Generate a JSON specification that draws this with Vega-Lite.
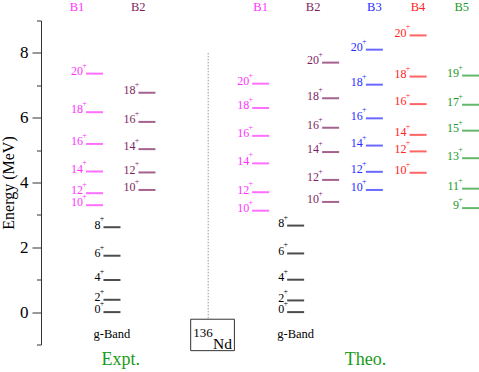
{
  "$schema": "https://vega.github.io/schema/vega-lite/v6.json",
  "width": 438,
  "height": 324,
  "autosize": {"type": "none"},
  "padding": {"left": 41, "top": 20.5, "right": 0, "bottom": 27.5},
  "background": "white",
  "config": {"view": {"stroke": null}, "font": "Liberation Serif"},
  "resolve": {"axis": {"y": "independent"}},
  "datasets": {
    "levels": [
      {"column": "Expt. B1", "band": "B1", "spin": "20", "parity": "+", "energy": 7.36},
      {"column": "Expt. B1", "band": "B1", "spin": "18", "parity": "+", "energy": 6.17},
      {"column": "Expt. B1", "band": "B1", "spin": "16", "parity": "+", "energy": 5.19},
      {"column": "Expt. B1", "band": "B1", "spin": "14", "parity": "+", "energy": 4.34},
      {"column": "Expt. B1", "band": "B1", "spin": "12", "parity": "+", "energy": 3.67},
      {"column": "Expt. B1", "band": "B1", "spin": "10", "parity": "+", "energy": 3.30},
      {"column": "Expt. B2", "band": "B2", "spin": "18", "parity": "+", "energy": 6.77},
      {"column": "Expt. B2", "band": "B2", "spin": "16", "parity": "+", "energy": 5.87},
      {"column": "Expt. B2", "band": "B2", "spin": "14", "parity": "+", "energy": 5.03},
      {"column": "Expt. B2", "band": "B2", "spin": "12", "parity": "+", "energy": 4.31},
      {"column": "Expt. B2", "band": "B2", "spin": "10", "parity": "+", "energy": 3.77},
      {"column": "Expt. g-Band", "band": "g-Band", "spin": "8", "parity": "+", "energy": 2.62},
      {"column": "Expt. g-Band", "band": "g-Band", "spin": "6", "parity": "+", "energy": 1.74},
      {"column": "Expt. g-Band", "band": "g-Band", "spin": "4", "parity": "+", "energy": 0.99},
      {"column": "Expt. g-Band", "band": "g-Band", "spin": "2", "parity": "+", "energy": 0.38},
      {"column": "Expt. g-Band", "band": "g-Band", "spin": "0", "parity": "+", "energy": 0.0},
      {"column": "Theo. B1", "band": "B1", "spin": "20", "parity": "+", "energy": 7.05},
      {"column": "Theo. B1", "band": "B1", "spin": "18", "parity": "+", "energy": 6.30},
      {"column": "Theo. B1", "band": "B1", "spin": "16", "parity": "+", "energy": 5.44},
      {"column": "Theo. B1", "band": "B1", "spin": "14", "parity": "+", "energy": 4.59},
      {"column": "Theo. B1", "band": "B1", "spin": "12", "parity": "+", "energy": 3.70},
      {"column": "Theo. B1", "band": "B1", "spin": "10", "parity": "+", "energy": 3.13},
      {"column": "Theo. B2", "band": "B2", "spin": "20", "parity": "+", "energy": 7.70},
      {"column": "Theo. B2", "band": "B2", "spin": "18", "parity": "+", "energy": 6.60},
      {"column": "Theo. B2", "band": "B2", "spin": "16", "parity": "+", "energy": 5.69},
      {"column": "Theo. B2", "band": "B2", "spin": "14", "parity": "+", "energy": 4.94},
      {"column": "Theo. B2", "band": "B2", "spin": "12", "parity": "+", "energy": 4.08},
      {"column": "Theo. B2", "band": "B2", "spin": "10", "parity": "+", "energy": 3.40},
      {"column": "Theo. B3", "band": "B3", "spin": "20", "parity": "+", "energy": 8.10},
      {"column": "Theo. B3", "band": "B3", "spin": "18", "parity": "+", "energy": 7.02},
      {"column": "Theo. B3", "band": "B3", "spin": "16", "parity": "+", "energy": 5.98},
      {"column": "Theo. B3", "band": "B3", "spin": "14", "parity": "+", "energy": 5.14},
      {"column": "Theo. B3", "band": "B3", "spin": "12", "parity": "+", "energy": 4.33},
      {"column": "Theo. B3", "band": "B3", "spin": "10", "parity": "+", "energy": 3.77},
      {"column": "Theo. B4", "band": "B4", "spin": "20", "parity": "+", "energy": 8.54},
      {"column": "Theo. B4", "band": "B4", "spin": "18", "parity": "+", "energy": 7.27},
      {"column": "Theo. B4", "band": "B4", "spin": "16", "parity": "+", "energy": 6.42},
      {"column": "Theo. B4", "band": "B4", "spin": "14", "parity": "+", "energy": 5.47},
      {"column": "Theo. B4", "band": "B4", "spin": "12", "parity": "+", "energy": 4.96},
      {"column": "Theo. B4", "band": "B4", "spin": "10", "parity": "+", "energy": 4.30},
      {"column": "Theo. B5", "band": "B5", "spin": "19", "parity": "+", "energy": 7.30},
      {"column": "Theo. B5", "band": "B5", "spin": "17", "parity": "+", "energy": 6.40},
      {"column": "Theo. B5", "band": "B5", "spin": "15", "parity": "+", "energy": 5.60},
      {"column": "Theo. B5", "band": "B5", "spin": "13", "parity": "+", "energy": 4.75},
      {"column": "Theo. B5", "band": "B5", "spin": "11", "parity": "+", "energy": 3.81},
      {"column": "Theo. B5", "band": "B5", "spin": "9", "parity": "+", "energy": 3.21},
      {"column": "Theo. g-Band", "band": "g-Band", "spin": "8", "parity": "+", "energy": 2.67},
      {"column": "Theo. g-Band", "band": "g-Band", "spin": "6", "parity": "+", "energy": 1.81},
      {"column": "Theo. g-Band", "band": "g-Band", "spin": "4", "parity": "+", "energy": 1.00},
      {"column": "Theo. g-Band", "band": "g-Band", "spin": "2", "parity": "+", "energy": 0.36},
      {"column": "Theo. g-Band", "band": "g-Band", "spin": "0", "parity": "+", "energy": 0.0}
    ],
    "headers": [
      {"column": "Expt. B1 label", "band": "B1"},
      {"column": "Expt. B2 label", "band": "B2"},
      {"column": "Theo. B1", "band": "B1"},
      {"column": "Theo. B2 label", "band": "B2"},
      {"column": "Theo. B3", "band": "B3"},
      {"column": "Theo. B4", "band": "B4"},
      {"column": "Theo. B5 label", "band": "B5"}
    ]
  },
  "encoding": {
    "x": {
      "field": "column",
      "type": "nominal",
      "axis": null,
      "scale": {
        "type": "point",
        "padding": 0,
        "range": [1, 438.3],
        "domain": ["gap a", "gap b", "gap c", "gap d", "Expt. B1 label", "gap e", "Expt. B1", "gap f", "Expt. g-Band", "Expt. caption", "gap g", "Expt. B2 label", "Expt. B2", "gap h", "gap i", "gap j", "gap k", "Nd box left", "gap l", "Nd", "gap m", "gap n", "Nd box right", "gap o", "gap p", "Theo. B1", "gap q", "gap r", "gap s", "Theo. g-Band", "gap t", "Theo. B2 label", "gap u", "Theo. B2", "gap v", "gap w", "gap x", "Theo. caption", "Theo. B3", "gap y", "gap z", "gap A", "gap B", "Theo. B4", "gap C", "gap D", "gap E", "gap F", "Theo. B5 label", "Theo. B5", "gap G"]
      }
    }
  },
  "layer": [
    {
      "data": {"values": [{"column": "Nd"}]},
      "mark": {"type": "rule", "color": "#999999", "strokeWidth": 1, "strokeDash": [1.5, 1.5]},
      "encoding": {
        "y": {"datum": 8, "type": "quantitative", "scale": {"domain": [-1, 9], "nice": false, "zero": false},
          "axis": {"values": [-1, 1, 3, 5, 7, 9], "orient": "left", "labels": false, "title": null, "domain": false, "grid": false, "tickSize": 4.5, "tickColor": "#333333"}},
        "y2": {"datum": -0.22}
      }
    },
    {
      "data": {"values": [{"column": "Nd box left", "column_end": "Nd box right"}]},
      "mark": {"type": "rect", "fill": "white", "stroke": "#333333", "strokeWidth": 1},
      "encoding": {
        "x2": {"field": "column_end"},
        "y": {"datum": -0.22, "type": "quantitative", "axis": null},
        "y2": {"datum": -1.19}
      }
    },
    {
      "data": {"values": [{"column": "Nd box left", "text": "136"}]},
      "mark": {"type": "text", "font": "Liberation Serif", "align": "left", "baseline": "alphabetic", "dx": 2.5, "fontSize": 13, "color": "#000000"},
      "encoding": {
        "y": {"datum": -0.76, "type": "quantitative", "axis": null},
        "text": {"field": "text"}
      }
    },
    {
      "data": {"values": [{"column": "Nd box right", "text": "Nd"}]},
      "mark": {"type": "text", "font": "Liberation Serif", "align": "right", "baseline": "alphabetic", "dx": -2.4, "fontSize": 15.5, "color": "#000000"},
      "encoding": {
        "y": {"datum": -1.13, "type": "quantitative", "axis": null},
        "text": {"field": "text"}
      }
    },
    {
      "data": {"name": "levels"},
      "mark": {"type": "tick", "size": 17, "thickness": 2},
      "encoding": {
        "y": {
          "field": "energy",
          "type": "quantitative",
          "scale": {"domain": [-1, 9], "nice": false, "zero": false},
          "axis": {
            "values": [0, 2, 4, 6, 8],
            "orient": "left",
            "title": "Energy (MeV)",
            "titleFont": "Liberation Serif",
            "titleFontSize": 16,
            "titleFontWeight": "normal",
            "titleColor": "#000000",
            "titlePadding": 3,
            "labelFont": "Liberation Serif",
            "labelFontSize": 17,
            "labelColor": "#000000",
            "labelPadding": 4,
            "labelOverlap": false,
            "labelFlush": false,
            "tickSize": 9,
            "tickColor": "#333333",
            "domainColor": "#333333",
            "grid": false
          }
        },
        "color": {"field": "band", "type": "nominal", "legend": null,
          "scale": {"domain": ["B1", "B2", "B3", "B4", "B5", "g-Band"], "range": ["#ff33ff", "#7f1f5f", "#2a2aff", "#ff2424", "#22992a", "#000000"]}}
      }
    },
    {
      "data": {"name": "levels"},
      "mark": {"type": "text", "font": "Liberation Serif", "align": "right", "baseline": "alphabetic", "dx": -11.5, "dy": 1.3, "fontSize": 12},
      "encoding": {
        "y": {"field": "energy", "type": "quantitative", "axis": null},
        "text": {"field": "spin"},
        "color": {"field": "band", "type": "nominal", "legend": null}
      }
    },
    {
      "data": {"name": "levels"},
      "mark": {"type": "text", "font": "Liberation Serif", "align": "center", "baseline": "middle", "dx": -10, "dy": -8, "fontSize": 8},
      "encoding": {
        "y": {"field": "energy", "type": "quantitative", "axis": null},
        "text": {"field": "parity"},
        "color": {"field": "band", "type": "nominal", "legend": null}
      }
    },
    {
      "data": {"name": "headers"},
      "mark": {"type": "text", "font": "Liberation Serif", "align": "center", "baseline": "middle", "fontSize": 12.5},
      "encoding": {
        "y": {"datum": 9.41, "type": "quantitative", "axis": null},
        "text": {"field": "band"},
        "color": {"field": "band", "type": "nominal", "legend": null}
      }
    },
    {
      "data": {"values": [{"column": "Expt. g-Band", "text": "g-Band"}, {"column": "Theo. g-Band", "text": "g-Band"}]},
      "mark": {"type": "text", "font": "Liberation Serif", "align": "center", "baseline": "middle", "fontSize": 12.5, "color": "#000000"},
      "encoding": {
        "y": {"datum": -0.68, "type": "quantitative", "axis": null},
        "text": {"field": "text"}
      }
    },
    {
      "data": {"values": [{"column": "Expt. caption", "text": "Expt."}, {"column": "Theo. caption", "text": "Theo."}]},
      "mark": {"type": "text", "font": "Liberation Serif", "align": "center", "baseline": "alphabetic", "fontSize": 18, "color": "#1a9a1a"},
      "encoding": {
        "y": {"datum": -1.63, "type": "quantitative", "axis": null},
        "text": {"field": "text"}
      }
    }
  ]
}
